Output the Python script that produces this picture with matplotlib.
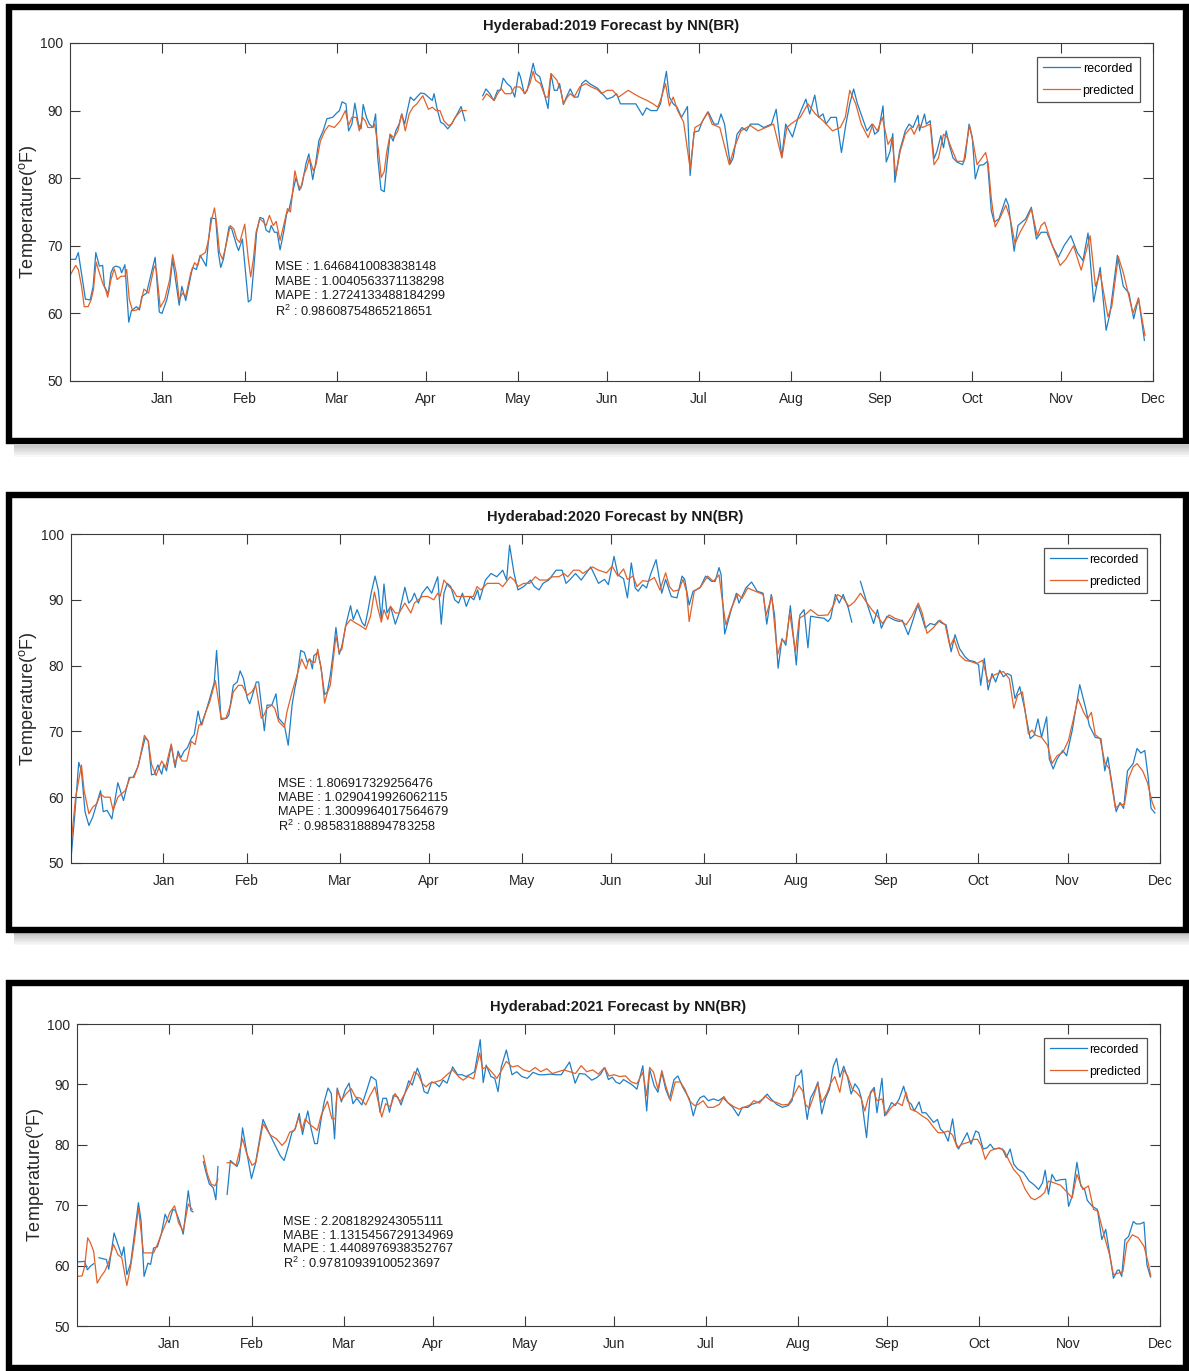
import numpy as np
import matplotlib
matplotlib.use('Agg')
import matplotlib.pyplot as plt
from matplotlib import font_manager
from matplotlib.patches import Rectangle

# narrow Helvetica-like face if available
installed = {f.name for f in font_manager.fontManager.ttflist}
FONT = next(n for n in ['Liberation Sans Narrow', 'Liberation Sans', 'DejaVu Sans'] if n in installed)
plt.rcParams['font.family'] = FONT
plt.rcParams['mathtext.fontset'] = 'custom'
plt.rcParams['mathtext.rm'] = FONT

month_ticks = [31, 59, 90, 120, 151, 181, 212, 243, 273, 304, 334, 365]
month_labels = ['Jan', 'Feb', 'Mar', 'Apr', 'May', 'Jun', 'Jul', 'Aug', 'Sep', 'Oct', 'Nov', 'Dec']

# (day of year, temperature in F); (None, None) marks missing days
rec_2019 = [(0,68),(1.9,68),(2.8,69),(5.2,62.1),(6.8,62),(7.8,64),(8.7,69),(9.9,67),(11,67.1),(11.6,64),(12.9,62.9),
    (13.8,66),(14.6,66.8),(15.5,67),(16.8,66.8),(17.4,66),(18.5,67.2),(19.8,58.7),(20.7,60.4),(22.4,61),(23.4,60.5),
    (24.2,62.5),(25.8,63),(28.7,68.3),(30.1,60.2),(31,60),(32.6,62),(33.6,64),(34.6,68),(36.8,61.2),(37.7,64),(39,61.9),
    (41.3,66.8),(42.6,66.5),(43.9,68.6),(45.9,67),(46.5,70),(47.5,74.1),(49.1,74),(50,69),(50.8,66.8),(51.7,68),
    (53.6,72.8),(54.5,72.5),(56.2,70),(56.8,69.3),(58.1,71),(60.1,61.7),(61,62),(62,67),(62.9,72),(64,74.2),(65.2,74),
    (66.1,72.3),(67.2,72),(67.8,73),(68.9,72),(69.8,72),(70.8,69.4),(72,72),(73,74.7),(73.9,75.5),(75.6,79),(76.2,80.1),
    (77.3,78.2),(78.2,79),(79.5,82.1),(80.5,83.6),(81.8,79.8),(82.7,82),(83.9,85.6),(85.3,87),(86.6,88.8),(88.5,89),
    (89.8,89.6),(90.8,90),(91.7,91.3),(93,91),(93.9,87),(95,88),(96,91.1),(97.2,88),(98.1,87.3),(98.8,90.9),(99.9,89),
    (100.9,88),(102.1,87.5),(103,89.5),(103.7,83.1),(104.8,78.3),(105.9,78),(106.8,82),(107.9,86.5),(108.9,85.5),
    (109.8,87),(110.9,88),(111.8,89.5),(112.8,88),(113.7,90),(114.7,92),(115.9,91.5),(116.9,92),(118.2,92.6),
    (119.5,92.5),(120.8,92),(122.1,91.5),(122.7,92.5),(123.6,90.5),(124.9,88.3),(126,88),(127.3,87.3),(128.6,88),
    (130.5,89.5),(131.8,90.6),(133.1,88.5),(None,None),(139.1,92.2),(140.2,93.2),(141.5,92.5),(142.8,91.5),(144.1,93),
    (145.1,93),(146,94.8),(147.3,94),(148.6,93.5),(149.9,92),(151.2,95.7),(151.8,95),(153.1,92.5),(154.1,93),(156.1,97),
    (156.9,95.5),(158.3,95),(159.6,93),(161.1,90.3),(162.1,95.4),(163.2,93),(164.2,93),(165,94),(166.3,90.9),(167.3,92),
    (168.6,93.2),(169.9,92),(171.2,92),(172.5,94),(173.8,94.5),(175.1,94),(177.8,93.3),(181,91.7),(182.9,92),
    (184.2,92.5),(185.5,91),(188.1,91),(190.7,91),(193,89.3),(194.3,90.4),(195.8,90),(197.8,90),(199,91),(201,95.8),
    (202,92),(203.3,91),(204.6,90.5),(206.1,89),(208.1,90.6),(209,80.4),(210.3,86.8),(211.9,87),(213.2,88.5),
    (215.1,89.8),(217.1,88),(218.4,88),(219.4,89.5),(220.6,88),(222.5,82.1),(223.5,83),(224.8,86.5),(226.5,87.5),
    (228,87),(229.3,88),(231.9,88),(233.8,87.5),(236.4,88),(238,90.2),(239.9,83.1),(241.2,88),(243.5,86.1),(245.4,89),
    (248,91.7),(249.3,89.5),(251,92.3),(252.3,89),(253.8,89.5),(254.8,88),(256.4,89),(258.3,89),(260,83.8),(261.5,88),
    (262.8,91),(264.1,93.2),(265.4,91),(267,89),(268.6,87),(270.3,88),(271.2,86.5),(272.5,87),(274,90.7),(275.1,82.4),
    (276.4,84),(277.3,86.6),(278,79.4),(279.6,84),(281.5,87),(282.8,88),(284.1,87.5),(285.8,89.3),(286.3,87),(288,89.5),
    (288.6,88),(289.9,88.5),(291.2,82.9),(292.2,84),(293.5,86.3),(294.4,84.5),(295.3,87),(296.3,85),(297.6,83),
    (298.9,82.4),(300.8,82),(301.7,83),(303,88),(304.1,86),(305.1,79.9),(306.4,81.9),(307.9,82),(309.2,82.5),
    (310.5,75.2),(311.5,73.5),(313.1,74),(315.4,77),(316.3,76),(318.2,69.2),(319.5,73),(322.1,74),(324,75.7),(325.7,71),
    (327.3,72),(329.2,72),(331.1,70),(333.1,68.3),(335,70),(337.3,71.5),(339.5,69),(341.4,67.8),(343.1,71.9),(345,61.7),
    (347.2,66.8),(349.2,57.5),(350.5,60),(353,68.6),(355,64),(356.9,63),(358.5,59.2),(360.1,62.3),(362.1,56)]

pred_2019 = [(0,65.6),(1.9,67.1),(2.8,66.5),(3.9,64),(4.8,61),(6.1,61),(7.1,62),(7.9,63.5),(8.8,67.6),(9.9,66),(11,64.5),
    (12,63.5),(12.7,62.4),(13.8,65),(14.9,66.6),(15.9,65),(17.2,65.5),(18.5,65.5),(19.1,66.5),(20,62),(21.1,60.4),
    (22.4,60.5),(23.6,61),(24.9,63.6),(26.5,63),(28.4,67),(29.1,66.5),(30.4,60.9),(31.9,62),(33.6,65),(34.6,68.7),
    (35.8,66),(36.8,62),(37.9,63),(39,62.5),(40.7,66),(42,67.5),(43,67),(43.9,68.5),(45.6,69),(46.5,70.5),(47.8,74),
    (48.7,75.6),(49.5,73),(50.4,69),(51.4,68),(52.3,69.5),(54,73),(55.2,72.5),(56.2,71),(57.2,70.5),(58.9,73.2),
    (60.1,68),(60.9,65.4),(61.8,68),(62.7,72),(64,74),(65.2,73.5),(66.1,73),(67.2,74.5),(68.5,73),(69.5,73.6),
    (70.8,70.8),(72,73),(73.3,75.5),(74.3,75),(75.8,81.1),(76.9,79),(77.8,78.5),(78.8,80.5),(79.8,81.5),(80.7,83),
    (82,81.1),(82.9,82),(84.4,85.5),(85.9,87),(87.2,87.8),(89.1,87.5),(91.1,88.5),(92.8,90),(93.9,87.8),(95,89),
    (96.5,89),(97.5,87),(98.6,89),(99.5,88.5),(100.4,87.5),(102.1,87.5),(102.7,88),(104,84),(104.9,80.1),(105.9,81),
    (106.8,84),(107.9,86.5),(109.2,86),(110.5,87),(111.8,89.5),(113,87),(114.3,89.5),(115.6,90.5),(116.9,91),
    (118.9,92.2),(120.8,90.2),(122.1,90.5),(123.4,90),(124.7,90),(126,88.5),(127.5,87.8),(128.6,88),(129.8,89),
    (131.8,90),(133.5,90),(None,None),(139.1,91.6),(140.4,92.5),(141.7,92),(143,91.5),(144.1,92.5),(145.3,93.3),
    (146.6,92.5),(148.6,92.5),(149.9,93.5),(151.6,93.5),(153.4,92.5),(155,94),(156.1,95.8),(156.9,94.5),(158.5,94),
    (160.2,92),(161.1,92),(162.1,95.5),(164.1,94.5),(165.4,93),(166.3,91),(167.6,92),(168.6,92.5),(169.9,92),
    (171.8,93.5),(173.8,94),(175.7,93.5),(177.8,93.1),(179.1,92.5),(181,93),(182.9,93),(184.9,92),(188.1,93),(190,92.5),
    (192,92),(194.5,91.5),(196.5,91),(198.1,90.5),(199,91.5),(200.7,94),(202,90.7),(203.3,92),(204.8,90),(206.8,88.3),
    (209,81.4),(210.6,87.5),(212.6,88),(214.9,89.8),(216.4,88),(219,87.5),(222.2,82),(223.9,84.5),(226.1,87),
    (229.3,87.8),(231.9,87),(234.5,87.5),(237.1,88),(239.9,83),(241.6,87.5),(242.9,88),(246.1,89),(248.7,91),
    (251.2,89.5),(253.8,88.5),(257,87),(259.6,87.5),(261.3,89),(262.8,93),(264.8,91),(266.7,88),(269,86),(270.6,88),
    (272.1,87),(273.8,89),(275.7,85),(277,86),(278.3,80.4),(279.8,84),(281.5,86.5),(283.4,87.5),(284.5,86.5),(286,88),
    (287.3,87.5),(289.9,88),(291.2,82),(292.7,83),(294.4,86.5),(295.7,86),(297,84.5),(298.9,82.5),(301.2,82.5),
    (302.1,85),(303.2,87.8),(304.5,85),(305.7,82),(307.3,83),(308.6,83.8),(309.5,82),(310.5,77),(311.8,72.8),(313.3,74),
    (315.4,76),(316.9,74),(318.5,70.3),(320.2,72),(322.1,73.5),(324,75.5),(326,71.5),(327.3,73),(328.5,73.5),(331.1,70),
    (333.7,67.1),(335.6,68),(338.2,70),(340.8,66.4),(343.8,71.5),(345.6,64),(347.2,66),(349.8,59.5),(351.1,61),
    (353.3,68.4),(355,66),(356.9,62.5),(358.2,60),(360.1,62.2),(362.3,56.7)]

rec_2020 = [(0,50.6),(1.2,57),(2.6,65.3),(3.5,64),(4.7,57.8),(6,55.7),(7.3,57),(8.6,59),(9.9,61),(10.8,57.8),(12.1,58),
    (13.7,56.7),(15.7,62.2),(17.6,59.5),(19.5,63),(20.8,63),(22.3,64.5),(24.9,69.1),(25.9,68.5),(27,63.4),(27.9,63.5),
    (29.1,64.9),(30.4,63.5),(31.1,65),(32,64),(33.6,67.9),(34.9,64.5),(35.9,67),(36.8,66),(37.9,67),(39,67.5),(40.4,69),
    (41.3,69.5),(42.6,73.1),(43.6,71),(45.2,73),(46.5,75),(48,77.4),(48.8,82.3),(49.7,76),(50.3,71.8),(52.2,72),
    (52.9,72.5),(54.4,77),(55.7,77.5),(56.7,79.2),(57.8,78),(59.1,75),(59.9,74.2),(60.8,75.5),(62.1,77.5),(62.9,77.5),
    (63.8,74),(64.8,70.1),(65.7,74),(67.3,74),(68.7,75.7),(69.6,72),(71.5,71),(72.8,67.9),(74.1,74),(75,76.5),(75.7,78),
    (77,82.3),(78.2,82),(79.2,80.5),(80.1,81),(80.9,79.5),(81.4,81.5),(82.7,82),(83.7,80),(85,75.6),(85.9,76),
    (86.9,78.5),(87.9,82),(88.8,85.8),(89.9,81.7),(90.8,83),(92.3,86.5),(93.7,89.1),(94.6,87),(95.9,88.5),(97.6,86.5),
    (98.5,86),(99.4,88),(100.6,91),(101.9,93.6),(103,91.5),(104,87.1),(104.9,92.4),(105.9,88),(107.1,89),(108.7,86.3),
    (110,88),(111.9,91.9),(113.2,89.5),(114.2,90),(115.1,91),(116.4,89.5),(117.7,91),(119.4,92),(120.9,91),(122.9,93.5),
    (124.1,86.3),(125,91),(126.1,92.5),(127.3,92),(128.6,90),(129.9,89.5),(131.2,91),(132.5,89),(133.8,90.5),(135,90),
    (136.3,91.5),(137,90),(138.9,93),(140.8,94),(142.7,93.5),(144.7,94.5),(146,93),(147,98.3),(148.5,94),(149.8,91.5),
    (151.7,92),(154,93),(155.3,92),(156.9,91.5),(158.2,92.5),(160.1,93),(162.6,94.5),(164.6,94.5),(165.9,92.5),
    (167.1,93),(169.1,94),(171,93),(174.2,95),(176.8,92.5),(178.8,93.1),(180.1,92.3),(182,96.6),(183.3,93.8),
    (185.2,93.2),(186.5,90.3),(187.8,95.6),(189.1,91.8),(190.1,91.3),(191.6,92.3),(192.9,91.8),(194.2,93.8),(196.1,96.1),
    (198,91),(199.3,93.1),(201.2,90.5),(203.1,90.3),(204.8,93.6),(205.7,93.1),(207.2,89.2),(208.5,91.3),(210.8,91.8),
    (212.7,93.6),(214.7,92.8),(215.9,92.8),(217.2,94.9),(217.9,93.8),(219.1,84.8),(221.1,88.2),(223,91),(223.9,89.5),
    (226.2,91.8),(228.1,92.7),(230,91.3),(232,91),(233.2,86.3),(234.7,90.8),(235.8,87.7),(237,79.6),(238.3,84.1),
    (239.6,83.1),(241.1,89.1),(243.1,80.1),(244.3,87.7),(245.7,88.5),(247,82.7),(247.9,87.5),(250.5,87.3),(252.4,87.2),
    (253.7,86.7),(254.6,87.2),(256.2,90.8),(257.5,89.5),(258.8,90.8),(260.5,88.8),(261.7,86.6),(None,None),(264.6,92.8),
    (265.6,91.3),(267.1,89),(269,86.4),(270.3,88.5),(271.6,85.7),(273.5,87.5),(276.1,86.9),(277.6,86.7),(278.6,86.9),
    (280.6,84.7),(282.2,86.9),(283.8,89.2),(285,87.7),(286.3,85.7),(288,86.4),(289.5,86.2),(290.8,86.8),(292.1,86.4),
    (293.3,86.2),(295,82.1),(296.3,84.7),(297.8,82.6),(299.7,81.3),(301,80.8),(302.9,80.6),(304.2,80.1),(304.9,77),
    (306.1,81.1),(307.4,76.3),(308.7,78.8),(309.9,77.5),(311.3,79.3),(312.5,78.3),(313.8,78.8),(315.1,78.5),(316.4,75),
    (318,76.8),(319.6,73.5),(321.5,68.9),(322.8,69.4),(324.1,71.9),(325.3,69.1),(327,72.2),(327.9,65.8),(329.2,64.3),
    (330.5,65.8),(332.4,67.1),(333.7,66.3),(335.6,70.2),(338.1,77.1),(340.1,73.5),(341.3,70.9),(343.3,69.1),(345.2,68.9),
    (346.5,64),(347.5,66.1),(349,61.8),(350.3,57.8),(351.6,59.2),(352.8,58.3),(354.1,64),(356,65.1),(357.3,67.4),
    (358.6,66.7),(359.9,67.1),(361.1,62.8),(362,58.3),(363.3,57.6)]

pred_2020 = [(0,52.7),(1.5,59.8),(3.5,64.9),(4.4,61),(6,57.5),(7.3,58.5),(8.6,59),(9.9,60.5),(11.2,60),(13.1,60),(14.1,58),
    (15.7,60),(16.9,60.5),(18.2,61),(19.8,63),(21.1,63),(22.7,65),(24.6,69.4),(25.9,68.5),(27,65),(28.5,63.3),(29.5,64.5),
    (30.4,65.5),(31.7,64.5),(33.6,68.1),(34.7,65),(35.9,66.5),(37.2,65.5),(38.8,65.5),(40.3,68.5),(41.6,68),(42.9,71),
    (43.9,71),(45.2,73),(46.5,74.5),(48.4,77.7),(50.3,72),(51.9,72),(53.5,74),(54.4,76),(56.1,77),(57.4,77),(59.1,75.5),
    (60.6,76),(61.9,77),(63.8,72),(64.7,72.5),(65.7,73.5),(67.3,74),(68.3,73.5),(69.6,71.5),(71.5,70.6),(72.4,73),
    (74.1,76),(75.4,78),(77.3,81),(78.8,79.5),(79.8,81),(81.1,80.5),(81.8,80.5),(82.7,82.5),(84,79),(85,74.3),(86,76),
    (86.9,77),(87.9,81),(88.8,84.5),(89.9,82),(90.8,82.5),(92,86),(93.7,87),(95.3,86.5),(97.2,86),(98.8,85.5),
    (100.4,87.5),(101.7,91.2),(102.7,89),(104,86.6),(104.9,88.5),(106.2,87),(107.1,89),(108.7,88),(110,88),(111.9,89.5),
    (113.9,88),(115.1,89.5),(116.4,90),(117.7,90.5),(119.6,90.5),(121.6,90),(122.9,91),(123.7,90.5),(125,93),(126.7,92),
    (128,91.5),(129.3,90.5),(131.2,90.5),(133.1,90.5),(134.8,90.5),(136.1,92),(137.4,91.5),(139.5,92.5),(141.5,92.5),
    (143.4,92.5),(144.7,92),(147.2,93.5),(148.5,93),(149.8,92),(151.7,92.5),(153.7,92.5),(155.6,93.5),(157.1,93),
    (159.4,93),(161.4,93.5),(163.5,93.5),(165.2,94),(166.5,93.5),(168.4,94.5),(170.3,94.5),(171.6,94),(174.8,95),
    (176.8,94.5),(179.5,94.1),(181.4,95.1),(183.3,93.6),(185.2,94.7),(186.5,93.1),(188.4,93.6),(189.7,92),(191.6,92.9),
    (193.5,92.8),(195.5,93.4),(197.4,91.5),(199.3,94.1),(200.6,92),(201.9,91.3),(203.8,91.5),(205.1,93.1),(206.3,91.3),
    (207.2,86.7),(208.9,91.3),(211.1,92),(213.4,93.6),(215.3,92.8),(217.2,93.8),(218.5,89.2),(219.5,86.2),(221.3,88.7),
    (223.4,90.9),(224.9,90.2),(226.8,91.8),(229.4,91.3),(232,90.8),(233,87.7),(234.9,90.5),(236.8,81.6),(238.3,83.9),
    (239.6,83.6),(240.9,88),(242.8,82.1),(244.1,87.2),(246,87.7),(247.9,88.5),(250.5,87.6),(253.7,87.7),(255.6,89.2),
    (256.9,90.8),(258.8,90.3),(260.7,89),(262.6,89.7),(264.6,91),(266.5,89.7),(268.4,88.5),(270.3,87.5),(272,86.4),
    (274.2,87.7),(276.1,87.2),(278,86.9),(279.9,86.2),(281.8,87.5),(284,89.5),(285.3,88),(286.9,84.9),(288.9,85.7),
    (291.2,86.9),(293,86.2),(294.6,82.9),(295.9,84.1),(297.8,81.6),(299.7,80.8),(301.7,80.6),(303.6,80.3),(305.5,80.8),
    (307.4,77.5),(309.1,78.5),(310.6,78.8),(312.5,79.1),(314.5,78),(316,73.5),(317.3,75.5),(318.9,76),(320.9,69.6),
    (322.1,70.2),(323.4,69.4),(325.3,69.1),(327.3,67.9),(328.8,65.1),(330.5,66.3),(332.4,66.8),(334.3,68.6),(336,71.9),
    (337.5,75),(339.4,72.9),(340.7,71.9),(342,72.9),(343.3,69.5),(344.9,68.9),(346.5,65.3),(348,64.3),(350,58.4),
    (351.8,58.9),(353.1,58.9),(354.4,62.8),(356,64.6),(357.3,65.1),(359.2,64),(360.8,62.2),(362.4,59.2),(363.3,58.2)]

rec_2021 = [(0,60.6),(2.6,60.7),(3.5,59.3),(4.5,59.9),(5.6,60.3),(None,None),(7.4,61.3),(9,61.1),(9.9,61),(10.7,59.4),
    (12.5,65.4),(14.2,62.9),(15.1,61.6),(15.8,63.1),(16.8,58.5),(18.1,60.4),(19.4,65.4),(20.7,70.4),(21.6,67.4),
    (22.6,58.2),(23.9,60.4),(24.8,60.2),(25.8,62.9),(27.1,63.1),(28.4,65.2),(29.7,68.5),(31,67.1),(32.3,69.3),(33.2,69.1),
    (34.5,67.4),(35.8,65.2),(37.5,72.4),(38.4,69.1),(39.1,68.9),(None,None),(42.6,77.2),(43.5,75.4),(44.6,73.5),
    (45.9,72.9),(46.8,70.9),(47.5,76.4),(None,None),(50.6,71.8),(51.7,77.4),(53,76.8),(53.9,76.4),(54.7,77.4),(55.8,82.8),
    (56.8,79.9),(58.8,74.4),(60.1,76.8),(62.7,84.2),(64.6,82.1),(66.5,80.2),(68.5,78.2),(69.8,77.4),(71.3,79.9),(72.4,82),
    (73.6,82.7),(74.9,85.2),(76,81.7),(76.9,83.8),(77.8,85.6),(78.8,82.9),(80.1,80.2),(81,80.2),(82.3,84.3),(83.3,87.1),
    (84.6,89.4),(85.7,88.5),(86.8,81),(87.7,89.4),(89.1,87.1),(90.4,89.1),(91.7,90.2),(93,86.8),(94.3,87.7),(96,86.6),
    (97.5,88.8),(99.1,91.3),(100.8,90.7),(102.1,85.4),(103.1,87.7),(104.3,87.7),(105.3,85.4),(106.6,88.2),(108.1,87.9),
    (109.2,86.6),(110.5,88.5),(111.8,90.6),(113,89.9),(114.7,92.7),(115.6,91.6),(117,88.8),(118.2,88.5),(119.5,90.4),
    (120.8,90.2),(122.1,89.6),(123.4,90.7),(124.7,90.2),(126.6,92.9),(128.3,91.6),(129.8,91.6),(131.1,91.3),(132.7,91.7),
    (134,92.1),(135.9,97.4),(136.9,90.3),(137.9,93.2),(139.5,91.3),(140.8,91),(141.9,88.8),(143,92.9),(144.7,95.7),
    (146.6,91.6),(148.2,92.1),(149.9,91.3),(151.8,91),(153.7,92),(155.7,91.6),(157.6,91.6),(159.6,91.7),(161.5,91.6),
    (163.2,91.6),(166,93.7),(167.9,90.2),(169.3,91.8),(171.2,91.7),(173.5,90.7),(175.1,91.1),(176.5,91.7),(177.8,92.8),
    (179.1,90.8),(180.4,91.2),(181.6,90.4),(182.9,90.1),(184.2,90.8),(186.2,90.2),(187.4,89.8),(188.7,89.2),(190.7,93.1),
    (192,85.6),(193,92.5),(194.5,89.8),(195.8,88.7),(197.1,92),(198.4,89.2),(199.7,87.6),(201.2,90.8),(202.5,91.4),
    (204.2,89.5),(206.4,87.6),(207.7,84.8),(209,87),(210,87.8),(211.3,88.1),(212.8,87.3),(214.5,87.6),(216.2,87.3),
    (217.7,87.8),(219.3,87),(221,86.2),(222.9,84.8),(224.2,86.2),(226.1,86.2),(227.4,86.7),(229.4,87),(231.3,87.6),
    (232.6,88.4),(233.9,87.6),(235.8,86.7),(237.7,86.2),(239.7,86.5),(241,87.3),(242.3,91.4),(243.3,91.6),(244.2,92.4),
    (245.1,87.8),(246.1,84.2),(247.2,87.7),(248.7,89.1),(249.7,90.4),(251,85.1),(252.3,87.7),(253.6,89.2),(254.9,93),
    (256,94.3),(257.1,91.2),(258.4,93),(259.7,91.2),(260.9,88.4),(262.2,90.1),(263.5,89.2),(264.4,87.6),(266.1,81.2),
    (267.4,88.7),(268.7,89.5),(269.6,85.3),(271.3,91),(272.2,84.8),(273.5,85.9),(274.5,87),(275.8,86.5),(277.1,87.6),
    (278.6,89.7),(279.9,87.3),(281.2,86.7),(282.2,85.6),(283.8,87.1),(284.8,85.3),(286.1,85.3),(287.4,84.5),(288.7,83.7),
    (290,84.2),(291,82.6),(292.3,82),(293.6,80.6),(295.1,84.3),(296.2,80.4),(297.1,79.3),(298.3,80.4),(300,82),
    (301.3,80.1),(302.9,82.3),(303.9,82),(305.4,79.3),(306.7,79.5),(307.8,80.1),(309,79.3),(310.6,79.4),(311.9,79.3),
    (313.2,77.9),(314.5,79.3),(315.7,76.8),(317,76),(319,75.4),(320.9,74),(322.5,73.4),(324.1,72.6),(325.4,73.7),
    (326.3,75.8),(327.4,71.8),(328.6,75.1),(329.9,74),(331.2,74.2),(333.2,74.3),(334.2,69.8),(335.4,71.5),(337,77.1),
    (338.3,73.2),(339.6,72.6),(340.5,70.8),(342.2,69.8),(343.9,69.3),(345.4,64.3),(346.7,66),(348,62.1),(349.3,57.9),
    (350.6,59.2),(351.2,59.3),(352.1,58.2),(353.2,64.3),(354.4,64.8),(356,67.3),(357,66.9),(358.3,66.9),(359.6,67.2),
    (360.6,60.1),(361.8,58.1)]

pred_2021 = [(0,58.2),(1.7,58.3),(2.6,59.9),(3.6,64.6),(4.5,63.8),(5.6,62.4),(6.8,57.1),(8.1,58.2),(9.4,59.1),(10.7,60.6),
    (12.3,63.5),(13.8,61.8),(15.1,61.3),(16.8,56.7),(18.1,59.9),(19.4,64.3),(20.7,69.6),(22.4,62.1),(23.9,62.1),
    (25.8,62.1),(27.1,63.5),(28.4,65.2),(30,67.1),(31.3,68.8),(32.9,69.9),(34.2,67.1),(35.8,65.7),(37.5,70.2),(38.8,69.3),
    (None,None),(42.6,78.2),(43.9,75.2),(45.2,73.5),(46.5,73.2),(47.5,74.3),(None,None),(50.6,77),(51.9,77.1),(53.6,76.6),
    (55.8,81),(57.2,78.5),(59,76.6),(60.3,77.1),(62.7,83.5),(65.2,81.6),(67.2,81),(69.1,79.9),(70.4,80.6),(71.7,82.1),
    (73.3,82.4),(74.7,84.6),(75.8,82.4),(76.9,84.3),(78.2,83.5),(79.7,82.9),(81,82.4),(82.3,84.9),(84.4,87.2),(85.9,84.3),
    (87,84.3),(87.7,89.1),(89.1,87.4),(90.8,88.5),(92.4,89.3),(93.9,87.9),(95.6,87.7),(97.3,86.6),(98.8,88.2),
    (100.4,89.6),(101.7,86.8),(102.7,84.6),(104,86.8),(105.6,86.3),(107.2,88.5),(108.9,87.1),(110.5,88.5),(112,89.9),
    (113.7,92.1),(115,91.6),(116.3,90.2),(117.6,89.6),(118.9,90.2),(120.8,90.4),(122.7,90.7),(124.7,91.6),(126.6,92.4),
    (128.6,91.3),(130.1,90.7),(131.8,91.3),(133.7,90.9),(135.7,95.2),(136.7,92.6),(138.2,92.9),(140.2,91.8),(141.5,91),
    (142.8,92.1),(144.7,93.8),(146.6,92.9),(148.6,93.1),(150.5,92.4),(152.5,92.1),(154.4,92.8),(156.3,92.1),(158.3,92.6),
    (160.2,91.8),(162.1,92.1),(164.1,92.4),(166,92.1),(168,91.8),(169.9,93.1),(171.8,92.1),(173.8,92.4),(175.7,91.7),
    (177.8,92.8),(179.3,91.4),(181,91.6),(182.9,91.3),(184.9,91.4),(186.8,90.4),(188.7,90.1),(190.7,92),(192,88.1),
    (193,92.8),(194.3,92),(195.8,89.2),(197.1,92.3),(198.4,89.8),(200,87.3),(201.6,90.4),(203.3,90.4),(204.9,89.2),
    (206.4,87.3),(208.1,86.5),(209.4,86.7),(211,87.3),(212.6,86.2),(214.5,86.2),(216.5,86.7),(218,88),(219.3,87),
    (221.4,86.3),(223.2,85.9),(224.8,86.2),(226.8,86.6),(228.1,87.3),(230,86.9),(231.9,88.1),(233.9,87.3),(235.8,87),
    (237.7,86.6),(239.7,86.7),(241.6,88.2),(243.3,89.8),(244.6,88.9),(245.5,86.7),(246.8,86),(248.1,87.8),(249.7,90.2),
    (251,87),(252.6,88.4),(254.1,90.3),(255.4,91.3),(257.1,88.7),(258.4,92.4),(259.7,91.4),(261.3,89.2),(262.6,88.7),
    (264.2,87.8),(265.5,85.6),(266.7,87.8),(268.3,89.2),(269.6,87.3),(271.3,87.6),(272.6,84.9),(274.5,86.2),(276.4,87),
    (278.1,86.5),(279.4,88.7),(280.9,85.9),(282.9,85.5),(284.8,84.8),(286.7,84.2),(288.7,82.9),(290.2,82),(291.9,82),
    (293.6,82.3),(295.1,81.6),(296.7,79.5),(298.3,80.1),(300.3,80.4),(302.2,80.9),(303.5,80.9),(304.8,79.8),(306.1,77.6),
    (307.8,79),(309.3,79.3),(310.9,79.5),(312.5,79),(314.2,77.3),(315.7,75.9),(317.7,74.8),(319.6,72.6),(321.5,71.2),
    (322.8,70.9),(324.8,71.5),(326.1,72.1),(327.4,74),(329.3,73.7),(331.5,73.3),(333.8,72.1),(335.4,71.2),(337,75.1),
    (339,72.6),(340.9,73.2),(342.6,69.3),(344.1,69),(346.1,65.1),(348,61.8),(349.3,58.5),(351.2,58.8),(352.5,59),
    (353.8,63.7),(355.7,65.1),(357.7,64.6),(359.6,63.2),(360.9,60.7),(361.9,58.3)]

titles = ['Hyderabad:2019 Forecast by NN(BR)', 'Hyderabad:2020 Forecast by NN(BR)', 'Hyderabad:2021 Forecast by NN(BR)']

stats_2019 = ['MSE : 1.6468410083838148', 'MABE : 1.0040563371138298', 'MAPE : 1.2724133488184299', 'R$^2$ : 0.98608754865218651']
stats_2020 = ['MSE : 1.806917329256476', 'MABE : 1.0290419926062115', 'MAPE : 1.3009964017564679', 'R$^2$ : 0.98583188894783258']
stats_2021 = ['MSE : 2.2081829243055111', 'MABE : 1.1315456729134969', 'MAPE : 1.4408976938352767', 'R$^2$ : 0.97810939100523697']

BLUE = '#1f7fc6'
ORANGE = '#e0622a'
AXC = '#3a3a3a'

W, H = 1189, 1371
fig = plt.figure(figsize=(W / 100, H / 100), dpi=100)


def fig_box(l, t, r, b):
    # pixel box (left, top, right, bottom) -> figure fraction rect
    return [l / W, 1 - b / H, (r - l) / W, (b - t) / H]


def draw_frame(t, b):
    # soft shadow under the frame, then the thick black border
    for i in range(8):
        fig.add_artist(Rectangle((14 / W, 1 - (b + 3 + 1.5 * (i + 1)) / H), (1189 - 14) / W, 1.5 / H,
                                 transform=fig.transFigure, color='black', alpha=0.22 * (1 - i / 8), lw=0))
    fig.add_artist(Rectangle((9 / W, 1 - b / H), (1186 - 9) / W, (b - t) / H, transform=fig.transFigure,
                             fill=False, ec='black', lw=4.6))


# frame (top, bottom), axes box (l, t, r, b), stats text anchor (x frac, y fracs)
layout = [
    ((7, 441.5), (70, 43, 1153, 381), 0.189, [0.336, 0.294, 0.252, 0.206]),
    ((495, 930), (71, 534, 1160, 863), 0.190, [0.239, 0.198, 0.156, 0.110]),
    ((983, 1367.5), (77, 1024, 1160, 1326), 0.190, [0.343, 0.299, 0.255, 0.208]),
]
series = [(rec_2019, pred_2019, stats_2019), (rec_2020, pred_2020, stats_2020), (rec_2021, pred_2021, stats_2021)]

for (frame, box, sx, sys_), (rec, pred, stats), title in zip(layout, series, titles):
    draw_frame(*frame)
    l, t, r, b = box
    ax = fig.add_axes(fig_box(l, t, r, b))
    rec = np.array(rec, dtype=float)
    pred = np.array(pred, dtype=float)
    ax.plot(rec[:, 0], rec[:, 1], color=BLUE, lw=0.9, label='recorded')
    ax.plot(pred[:, 0], pred[:, 1], color=ORANGE, lw=0.9, label='predicted')

    ax.set_xlim(0, 365)
    ax.set_ylim(50, 100)
    ax.set_xticks(month_ticks, month_labels)
    ax.set_yticks(range(50, 101, 10))
    ax.tick_params(direction='in', top=True, right=True, length=7.5, width=0.8, colors=AXC,
                   labelsize=10, labelcolor='#262626')
    ax.tick_params(axis='x', pad=8)
    ax.tick_params(axis='y', pad=5)
    for sp in ax.spines.values():
        sp.set_color(AXC)
        sp.set_linewidth(0.8)

    ax.set_ylabel('Temperature($^{\\mathrm{o}}$F)', fontsize=13, color='#262626')
    ax.yaxis.set_label_coords(-0.029, 0.5)
    fig.text((l + r) / 2 / W, 1 - (t - 17) / H, title, ha='center', va='center',
             fontsize=10.5, fontweight='bold', color='#1a1a1a')

    for s, y in zip(stats, sys_):
        ax.text(sx, y, s, transform=ax.transAxes, fontsize=9.2, color='#1a1a1a', va='center', ha='left')

    leg = ax.legend(loc='upper right', bbox_to_anchor=(1 - 13 / (r - l), 1 - 14 / (b - t)), borderaxespad=0,
                    fontsize=9, frameon=True, fancybox=False, handlelength=3.0, handletextpad=0.2,
                    labelspacing=0.8, borderpad=0.45)
    leg.get_frame().set_edgecolor('#262626')
    leg.get_frame().set_linewidth(0.9)

fig.savefig('out.png', dpi=100, facecolor='white')
